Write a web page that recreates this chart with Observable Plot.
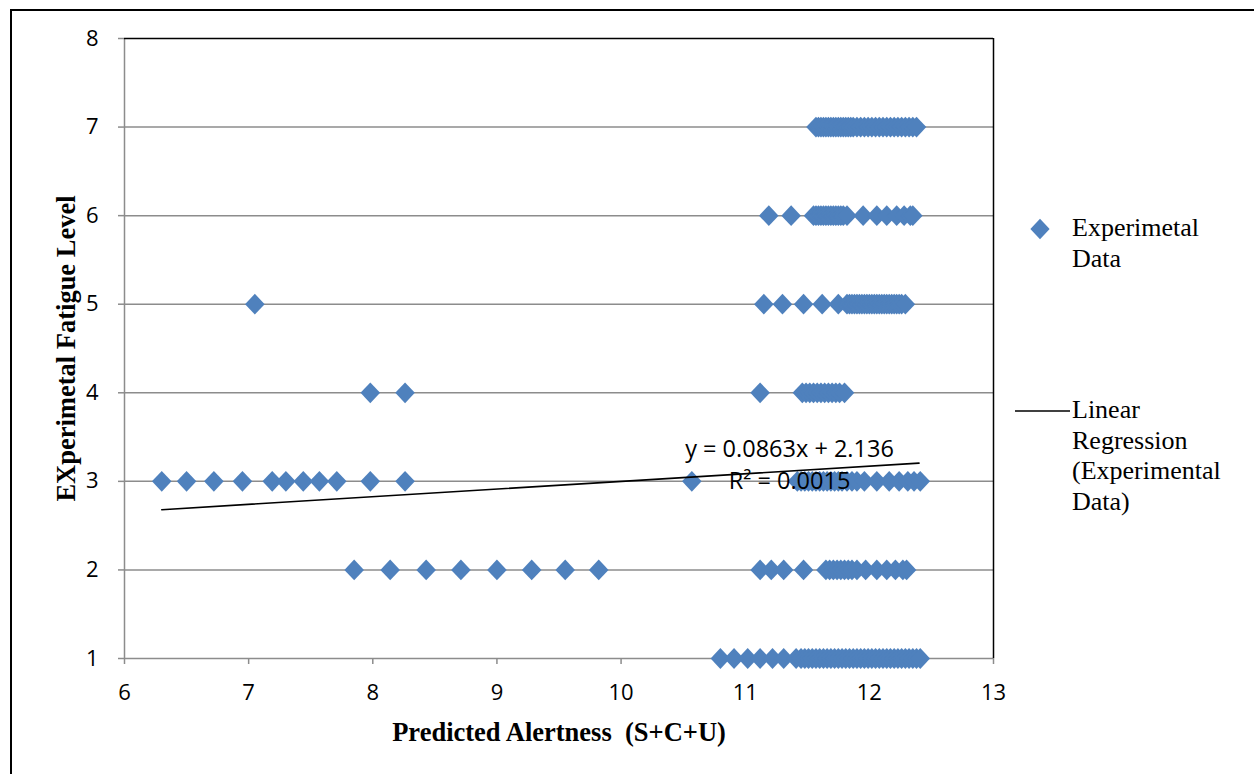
<!DOCTYPE html>
<html>
<head>
<meta charset="utf-8">
<script src="https://cdn.jsdelivr.net/npm/d3@7"></script>
<script src="https://cdn.jsdelivr.net/npm/@observablehq/plot@0.6"></script>
<style>
  html, body { margin: 0; padding: 0; background: #fff; }
  #wrap { position: relative; width: 1254px; height: 774px; overflow: hidden; }
  #outer { position: absolute; left: 10px; top: 9px; width: 2000px; height: 2000px;
           border-left: 2px solid #000; border-top: 2px solid #000; }
  #chart { position: absolute; left: 0; top: 0; }
  .leg { position: absolute; font-family: "Liberation Serif", "Times New Roman", serif;
         font-size: 26px; line-height: 30.6px; color: #000; white-space: nowrap; }
</style>
</head>
<body>
<div id="wrap">
  <div id="outer"></div>
  <div id="chart"></div>
  <svg style="position:absolute;left:1029px;top:218px" width="22" height="22">
    <path d="M11,0.8 L20.6,11 L11,21.2 L1.4,11 Z" fill="#4F81BD"></path>
  </svg>
  <div class="leg" style="left:1072px;top:213px">Experimetal<br>Data</div>
  <svg style="position:absolute;left:1014px;top:405px" width="60" height="12">
    <line x1="1" x2="56" y1="6" y2="6" stroke="#000" stroke-width="1.6"></line>
  </svg>
  <div class="leg" style="left:1072px;top:395px">Linear<br>Regression<br>(Experimental<br>Data)</div>
</div>
<script>
// ---- Data ----
const level7 = [11.57, 11.59, 11.61, 11.63, 11.65, 11.67, 11.69, 11.71, 11.73, 11.75, 11.77, 11.79, 11.81, 11.83, 11.85, 11.87, 11.90, 11.93, 11.96, 11.99, 12.02, 12.05, 12.08, 12.11, 12.14, 12.17, 12.20, 12.23, 12.26, 12.29, 12.32, 12.35, 12.38];
const level6 = [11.19, 11.37, 11.55, 11.57, 11.59, 11.61, 11.63, 11.65, 11.67, 11.69, 11.71, 11.73, 11.75, 11.77, 11.79, 11.82, 11.95, 12.06, 12.14, 12.22, 12.28, 12.33, 12.35];
const level5 = [7.05, 11.15, 11.30, 11.47, 11.62, 11.75, 11.82, 11.84, 11.86, 11.88, 11.90, 11.92, 11.94, 11.96, 11.98, 12.00, 12.02, 12.04, 12.06, 12.08, 12.10, 12.12, 12.14, 12.16, 12.18, 12.20, 12.22, 12.24, 12.26, 12.29];
const level4 = [7.98, 8.26, 11.12, 11.46, 11.49, 11.52, 11.55, 11.58, 11.61, 11.64, 11.67, 11.70, 11.73, 11.76, 11.80];
const level3 = [6.30, 6.50, 6.72, 6.95, 7.19, 7.30, 7.44, 7.57, 7.71, 7.98, 8.26, 10.57, 11.42, 11.45, 11.48, 11.51, 11.54, 11.57, 11.60, 11.63, 11.66, 11.69, 11.72, 11.75, 11.78, 11.82, 11.86, 11.90, 11.96, 12.06, 12.16, 12.24, 12.31, 12.36, 12.41];
const level2 = [7.85, 8.14, 8.43, 8.71, 9.00, 9.28, 9.55, 9.82, 11.12, 11.21, 11.31, 11.47, 11.65, 11.68, 11.71, 11.74, 11.77, 11.80, 11.83, 11.86, 11.90, 11.97, 12.06, 12.14, 12.21, 12.27, 12.30];
const level1 = [10.80, 10.91, 11.02, 11.12, 11.22, 11.31, 11.41, 11.45, 11.48, 11.51, 11.54, 11.57, 11.60, 11.63, 11.66, 11.69, 11.72, 11.75, 11.78, 11.81, 11.84, 11.87, 11.90, 11.93, 11.96, 11.99, 12.02, 12.05, 12.08, 12.11, 12.14, 12.17, 12.20, 12.23, 12.26, 12.29, 12.32, 12.35, 12.38, 12.41];
const levels = [1, 2, 3, 4, 5, 6, 7];
const levelX = [level1, level2, level3, level4, level5, level6, level7];

const slope = 0.0863, intercept = 2.136;
const trendX = [6.30, 12.40];
const eqLines = ["y = 0.0863x + 2.136", "R\u00b2 = 0.0015"];
const eqX = 11.357, eqY = [3.36, 3.0];

const xTicks = [6, 7, 8, 9, 10, 11, 12, 13];
const yTicks = [1, 2, 3, 4, 5, 6, 7, 8];
const xTitle = "Predicted Alertness  (S+C+U)";
const yTitle = "EXperimetal Fatigue Level";

// ---- Build tables ----
const points = levels.flatMap((lv, i) => levelX[i].map(x => ({x, y: lv})));
const trend = trendX.map(x => ({x, y: slope * x + intercept}));
const eqData = eqLines.map((t, i) => ({t, x: eqX, y: eqY[i]}));

const diamond = {
  draw(ctx, size) {
    const s = Math.sqrt(size / Math.PI);
    const w = s, h = s * 1.06;
    ctx.moveTo(0, -h); ctx.lineTo(w, 0); ctx.lineTo(0, h); ctx.lineTo(-w, 0); ctx.closePath();
  }
};

const grid = "#8c8c8c";
const tickFont = "'Open Sans', Lato, sans-serif";
const serif = "'Liberation Serif', 'Times New Roman', serif";

const chart = Plot.plot({
  width: 1254, height: 774,
  marginLeft: 124, marginRight: 261, marginTop: 38, marginBottom: 116,
  x: {domain: [6, 13]},
  y: {domain: [1, 8]},
  style: {background: "transparent"},
  marks: [
    Plot.ruleY(yTicks.slice(1, -1), {stroke: grid, strokeWidth: 1.5}),
    Plot.ruleY([1], {stroke: grid, strokeWidth: 1.5}),
    Plot.ruleX([6], {stroke: grid, strokeWidth: 1.5}),
    Plot.ruleY([8], {stroke: "#000", strokeWidth: 1.5}),
    Plot.ruleX([13], {stroke: "#000", strokeWidth: 1.5}),
    Plot.axisY({ticks: yTicks, tickSize: 6, tickPadding: 20, stroke: grid, strokeWidth: 1.5,
                fontSize: 22, fontFamily: tickFont, fill: "#000", label: null, tickFormat: d => String(d)}),
    Plot.axisX({ticks: xTicks, tickSize: 6, tickPadding: 20, stroke: grid, strokeWidth: 1.5,
                fontSize: 22, fontFamily: tickFont, fill: "#000", label: null, tickFormat: d => String(d)}),
    Plot.dot(points, {x: "x", y: "y", symbol: diamond, r: 9.8, fill: "#4F81BD", stroke: "none"}),
    Plot.line(trend, {x: "x", y: "y", stroke: "#000", strokeWidth: 1.6}),
    Plot.text(eqData, {x: "x", y: "y", text: "t", fontSize: 23.5, fontFamily: tickFont, fill: "#000"}),
    Plot.text([xTitle], {frameAnchor: "bottom", dy: 74, lineAnchor: "middle", fontSize: 26.5, fontWeight: "bold",
                         fontFamily: serif, fill: "#000"}),
    Plot.text([yTitle], {frameAnchor: "left", textAnchor: "middle", lineAnchor: "middle", dx: -58, rotate: -90,
                         fontSize: 26.5, fontWeight: "bold", fontFamily: serif, fill: "#000"})
  ]
});
document.getElementById("chart").appendChild(chart);
</script>
</body>
</html>
